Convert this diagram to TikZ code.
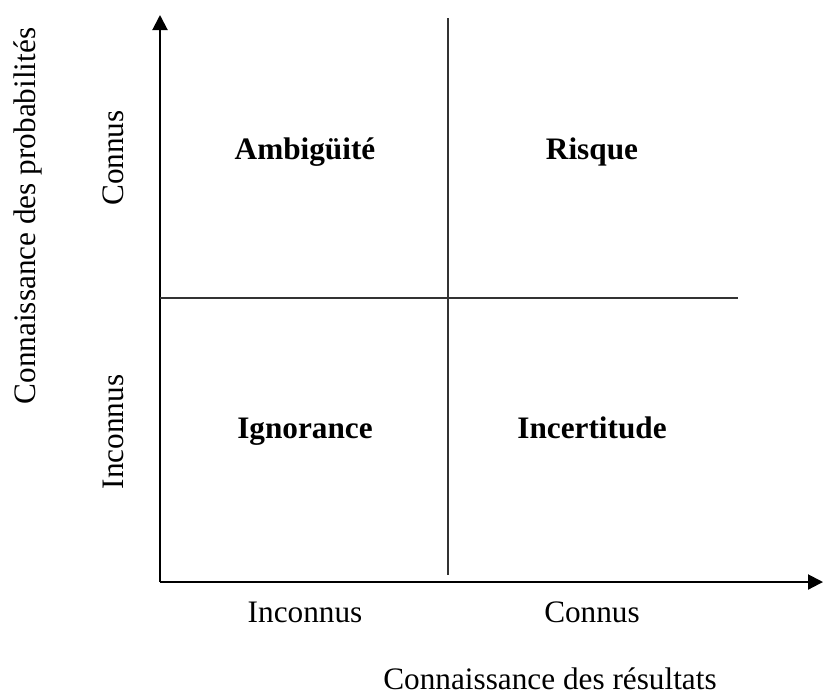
\documentclass[tikz,border=0pt]{standalone}
\usepackage{fontspec}
\setmainfont{Liberation Serif}
\usetikzlibrary{arrows.meta,positioning,calc}

\tikzset{
  axis/.style={line width=0.8pt,-{Triangle[length=6pt,width=6pt]}},
  divider/.style={line width=0.6pt,draw=black!80},
  quadrant/.style={font=\fontsize{12.5}{15}\selectfont\bfseries, anchor=base},
  scalelabel/.style={font=\fontsize{12.5}{15}\selectfont, anchor=base},
  sidelabel/.style={font=\fontsize{12.5}{15}\selectfont, rotate=90},
}

\begin{document}
\begin{tikzpicture}[x=0.4pt,y=-0.4pt]
\useasboundingbox (0,0) rectangle (824,695);

% Axes
\coordinate (origin) at (160,582);
\coordinate (ytip) at (160,15);
\coordinate (xtip) at (823,582);
\draw[axis] (origin) -- (ytip);
\draw[axis] (origin) -- (xtip);

% Dividers
\coordinate (vtop) at (448,18);
\coordinate (vbot) at (448,575);
\coordinate (hleft) at (160,298);
\coordinate (hright) at (738,298);
\draw[divider] (vtop) -- (vbot);
\draw[divider] (hleft) -- (hright);

% Quadrants
\node (ambig) [quadrant] at (305,159) {Ambigüité};
\node (risque) [quadrant] at (592,159) {Risque};
\node (ignor) [quadrant] at (305,438) {Ignorance};
\node (incert) [quadrant] at (592,438) {Incertitude};

% Axis labels
\node (yconnus) [sidelabel] at (113,158) {Connus};
\node (yinconnus) [sidelabel] at (113,432) {Inconnus};
\node (ytitle) [sidelabel] at (28,216) {Connaissance des probabilités};
\node (xinconnus) [scalelabel] at (305,622) {Inconnus};
\node (xconnus) [scalelabel] at (592,622) {Connus};
\node (xtitle) [scalelabel] at (550,689) {Connaissance des résultats};

\end{tikzpicture}
\end{document}
